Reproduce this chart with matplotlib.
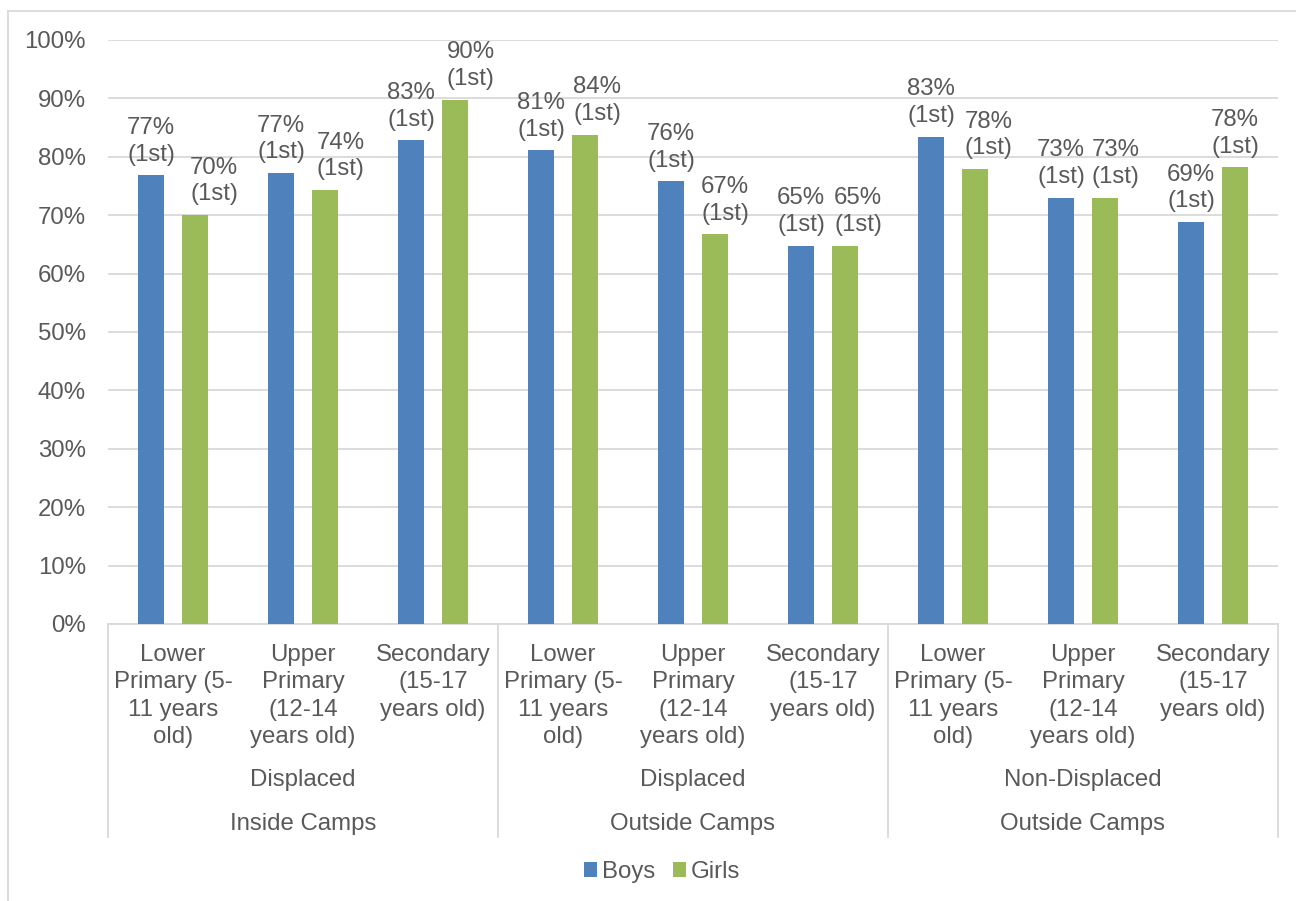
import matplotlib.pyplot as plt
import numpy as np

# values (percent)
sub_labels = ["Lower\nPrimary (5-\n11 years\nold)",
              "Upper\nPrimary\n(12-14\nyears old)",
              "Secondary\n(15-17\nyears old)"] * 3
mid_labels = ["Displaced", "Displaced", "Non-Displaced"]
top_labels = ["Inside Camps", "Outside Camps", "Outside Camps"]
boys = [76.8, 77.2, 82.8, 81.1, 75.8, 64.8, 83.4, 73.0, 68.8]
girls = [70.0, 74.3, 89.8, 83.8, 66.7, 64.8, 77.9, 73.0, 78.2]
rank = ["1st"] * 9

W, H = 1296, 901
plt.rcParams['font.family'] = ['Liberation Sans', 'DejaVu Sans']
txt = '#595959'
grid = '#d9d9d9'
blue = '#4f81bd'
green = '#9bbb59'
fs = 17.3

# girls' labels were nudged right in the original (pixels)
girl_dx = [19, 15.5, 15.5, 12, 10.3, 13, 13.7, 10.7, 0]

fig = plt.figure(figsize=(W / 100, H / 100), dpi=100)
# plot area in pixels: x 108..1278, y 40..624
x0, x1, y0, y1 = 108, 1278, 40, 624
ax = fig.add_axes([x0 / W, 1 - y1 / H, (x1 - x0) / W, (y1 - y0) / H])

x = np.arange(len(boys))
bw = 0.207
off = 0.169
b1 = ax.bar(x - off, boys, bw, color=blue, label="Boys", zorder=3)
b2 = ax.bar(x + off, girls, bw, color=green, label="Girls", zorder=3)

for bars, vals, dxs in ((b1, boys, [0] * 9), (b2, girls, girl_dx)):
    for r, v, rk, dx in zip(bars, vals, rank, dxs):
        ax.annotate(f"{v:.0f}%\n({rk})", (r.get_x() + r.get_width() / 2, v),
                    xytext=(dx * 0.72, 7), textcoords='offset points',
                    ha='center', va='bottom', fontsize=fs, color=txt,
                    linespacing=1.28)

ax.set_xlim(-0.5, len(boys) - 0.5)
ax.set_ylim(0, 100)
ax.set_yticks(np.arange(0, 101, 10))
ax.set_yticklabels([f"{t}%" for t in range(0, 101, 10)])
ax.tick_params(axis='y', length=0, pad=16, labelsize=fs, labelcolor=txt)
ax.set_xticks([])
ax.grid(axis='y', color=grid, lw=1.3, zorder=0)
for s in ['top', 'right', 'left']:
    ax.spines[s].set_visible(False)
ax.spines['bottom'].set_color(grid)
ax.spines['bottom'].set_linewidth(1.3)

def ya(py):
    # pixel row -> axes fraction
    return (y1 - py) / (y1 - y0)

tr = ax.get_xaxis_transform()
for i, lab in enumerate(sub_labels):
    ax.text(i, ya(644), lab, transform=tr, ha='center', va='top',
            fontsize=fs, color=txt, linespacing=1.32)
for g in range(3):
    ax.text(g * 3 + 1, ya(780), mid_labels[g], transform=tr, ha='center',
            va='center', fontsize=fs, color=txt)
    ax.text(g * 3 + 1, ya(824), top_labels[g], transform=tr, ha='center',
            va='center', fontsize=fs, color=txt)
for sep in [-0.5, 2.5, 5.5, 8.5]:
    ax.plot([sep, sep], [0, ya(837)], transform=tr, color=grid, lw=1.3,
            clip_on=False)

fig.legend(handles=[b1, b2], loc='center', bbox_to_anchor=(662 / W, 1 - 872 / H),
           ncol=2, frameon=False, fontsize=fs, labelcolor=txt,
           handlelength=0.55, handleheight=0.55, handletextpad=0.2,
           columnspacing=0.75)

# outer chart border (top and left edges visible)
fig.add_artist(plt.Line2D([8 / W, 1], [1 - 11 / H, 1 - 11 / H],
                          transform=fig.transFigure, color=grid, lw=1.3))
fig.add_artist(plt.Line2D([8 / W, 8 / W], [0, 1 - 11 / H],
                          transform=fig.transFigure, color=grid, lw=1.3))

fig.savefig("out.png", dpi=100)
